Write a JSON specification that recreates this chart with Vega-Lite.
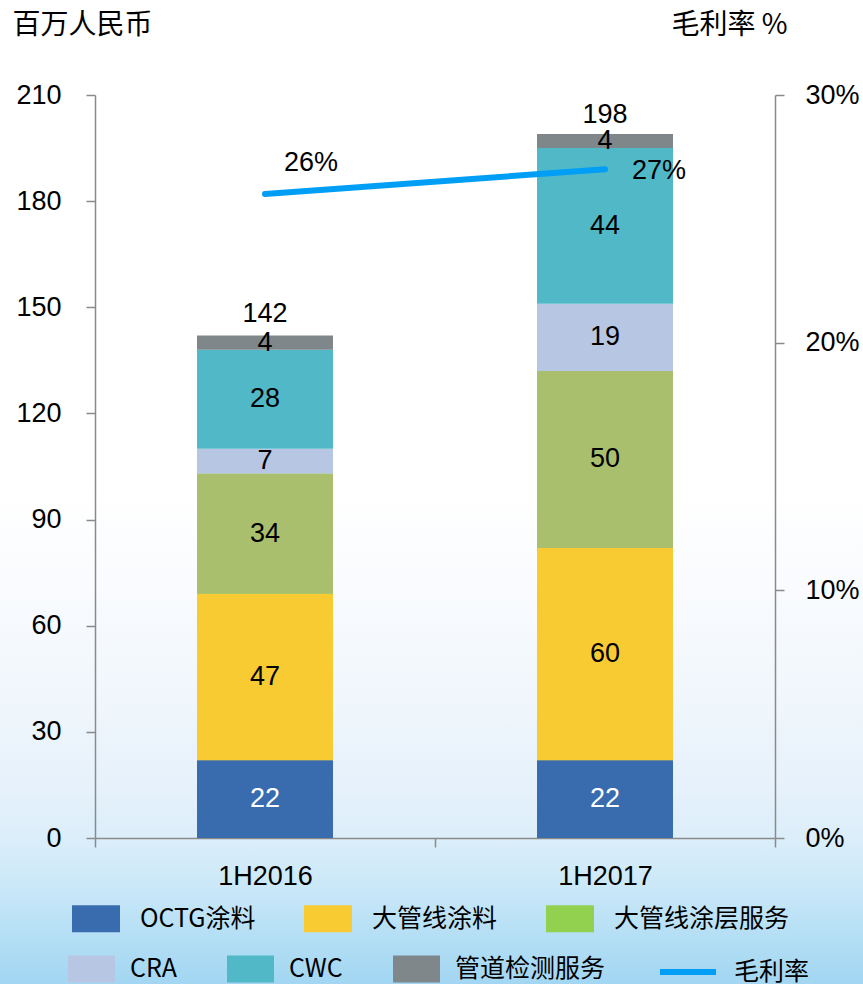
{
  "$schema": "https://vega.github.io/schema/vega-lite/v6.json",
  "width": 863,
  "height": 984,
  "autosize": {"type": "none"},
  "padding": 0,
  "background": "white",
  "view": {
    "stroke": null,
    "fill": {
      "gradient": "linear", "x1": 0, "y1": 0, "x2": 0, "y2": 1,
      "stops": [
        {"offset": 0, "color": "#FFFFFF"},
        {"offset": 0.5, "color": "#FFFFFF"},
        {"offset": 0.6, "color": "#F9FBFE"},
        {"offset": 0.7, "color": "#F1F7FC"},
        {"offset": 0.8, "color": "#E6F1FB"},
        {"offset": 0.85, "color": "#DCEEFA"},
        {"offset": 0.9, "color": "#CBE8F8"},
        {"offset": 0.95, "color": "#B5DFF5"},
        {"offset": 1, "color": "#A2D6F2"}
      ]
    }
  },
  "config": {
    "font": "Liberation Sans",
    "axis": {
      "domainColor": "#8A8A8A", "domainWidth": 1.5, "tickColor": "#8A8A8A", "tickWidth": 1.5,
      "labelColor": "black", "labelFont": "Liberation Sans", "labelFontSize": 27, "grid": false,
      "titleFont": "Noto Sans CJK SC", "titleFontSize": 28, "titleFontWeight": "normal", "titleColor": "black"
    },
    "legend": {
      "labelFont": "Noto Sans CJK SC", "labelFontSize": 25, "labelColor": "black", "labelLimit": 400, "padding": 0
    }
  },
  "resolve": {"scale": {"y": "independent"}},
  "layer": [
    {
      "data": {"values": [
        {"period": "1H2016", "category": "OCTG涂料", "value": 22},
        {"period": "1H2016", "category": "大管线涂料", "value": 47},
        {"period": "1H2016", "category": "大管线涂层服务", "value": 34},
        {"period": "1H2016", "category": "CRA", "value": 7},
        {"period": "1H2016", "category": "CWC", "value": 28},
        {"period": "1H2016", "category": "管道检测服务", "value": 4},
        {"period": "1H2017", "category": "OCTG涂料", "value": 22},
        {"period": "1H2017", "category": "大管线涂料", "value": 60},
        {"period": "1H2017", "category": "大管线涂层服务", "value": 50},
        {"period": "1H2017", "category": "CRA", "value": 19},
        {"period": "1H2017", "category": "CWC", "value": 44},
        {"period": "1H2017", "category": "管道检测服务", "value": 4}
      ]},
      "transform": [
        {"calculate": "indexof(['OCTG涂料','大管线涂料','大管线涂层服务','CRA','CWC','管道检测服务'], datum.category)", "as": "k"}
      ],
      "layer": [
        {
          "mark": {"type": "bar", "width": {"band": 0.4}},
          "encoding": {
            "x": {
              "field": "period", "type": "nominal", "sort": ["1H2016", "1H2017"],
              "scale": {"range": [95, 775], "paddingInner": 0, "paddingOuter": 0},
              "axis": {"title": null, "labelAngle": 0, "offset": -146, "tickBand": "extent", "tickSize": 9, "labelPadding": 16}
            },
            "y": {
              "field": "value", "type": "quantitative", "stack": "zero",
              "scale": {"domain": [0, 210], "range": [838, 95], "nice": false, "zero": true},
              "axis": {
                "orient": "left", "offset": -95, "values": [0, 30, 60, 90, 120, 150, 180, 210],
                "tickSize": 9, "labelPadding": 25,
                "title": "百万人民币", "titleAngle": 0, "titleAlign": "left", "titleBaseline": "middle",
                "titleX": -83, "titleY": 25
              }
            },
            "fill": {
              "field": "category", "type": "nominal",
              "scale": {"domain": ["OCTG涂料", "大管线涂料", "大管线涂层服务"], "range": ["#386CAE", "#F9CB33", "#92D050"]},
              "legend": {
                "title": null, "orient": "none", "legendX": 72, "legendY": 894.5, "direction": "horizontal",
                "symbolType": "M-1,-0.5625L1,-0.5625L1,0.5625L-1,0.5625Z", "symbolSize": 2304, "symbolStrokeWidth": 0,
                "labelOffset": 20, "columnPadding": 48, "gridAlign": "each"
              }
            },
            "order": {"field": "k", "type": "quantitative"}
          }
        },
        {
          "mark": {"type": "bar", "width": {"band": 0.4}},
          "encoding": {
            "x": {"field": "period", "type": "nominal", "sort": ["1H2016", "1H2017"]},
            "y": {"field": "value", "type": "quantitative", "stack": "zero"},
            "color": {
              "field": "category", "type": "nominal",
              "scale": {
                "domain": ["OCTG涂料", "大管线涂料", "大管线涂层服务", "CRA", "CWC", "管道检测服务"],
                "range": ["#386CAE", "#F9CB33", "#A9BF6E", "#B7C7E3", "#51B8C8", "#7F878A"]
              },
              "legend": {
                "values": ["CRA", "CWC", "管道检测服务"],
                "title": null, "orient": "none", "legendX": 68, "legendY": 945.5, "direction": "horizontal",
                "symbolType": "M-1,-0.574L1,-0.574L1,0.574L-1,0.574Z", "symbolSize": 2209, "symbolStrokeWidth": 0,
                "labelOffset": 15, "columnPadding": 50, "gridAlign": "each"
              }
            },
            "order": {"field": "k", "type": "quantitative"}
          }
        },
        {
          "mark": {"type": "text", "fontSize": 27, "baseline": "middle", "align": "center"},
          "encoding": {
            "x": {"field": "period", "type": "nominal", "sort": ["1H2016", "1H2017"]},
            "y": {"field": "value", "type": "quantitative", "stack": "zero", "bandPosition": 0.5},
            "detail": {"field": "category", "type": "nominal"},
            "order": {"field": "k", "type": "quantitative"},
            "text": {"field": "value", "type": "quantitative"},
            "color": {"condition": {"test": "datum.category === 'OCTG涂料'", "value": "white"}, "value": "black"}
          }
        },
        {
          "data": {"values": [
            {"period": "1H2016", "total": 142},
            {"period": "1H2017", "total": 198}
          ]},
          "mark": {"type": "text", "fontSize": 27, "baseline": "alphabetic", "align": "center", "dy": -14, "color": "black"},
          "encoding": {
            "x": {"field": "period", "type": "nominal", "sort": ["1H2016", "1H2017"]},
            "y": {"field": "total", "type": "quantitative"},
            "text": {"field": "total", "type": "quantitative"}
          }
        }
      ]
    },
    {
      "data": {"values": [
        {"period": "1H2016", "margin": 26},
        {"period": "1H2017", "margin": 27}
      ]},
      "layer": [
        {
          "mark": {"type": "line", "strokeWidth": 6, "strokeCap": "round"},
          "encoding": {
            "x": {"field": "period", "type": "nominal", "sort": ["1H2016", "1H2017"]},
            "y": {
              "field": "margin", "type": "quantitative",
              "scale": {"domain": [0, 30], "range": [838, 95], "nice": false},
              "axis": {
                "orient": "right", "offset": -88, "values": [0, 10, 20, 30], "labelExpr": "datum.value + '%'",
                "tickSize": 9, "labelPadding": 21,
                "title": "毛利率 %", "titleAngle": 0, "titleAlign": "right", "titleBaseline": "middle",
                "titleX": 12, "titleY": 25
              }
            },
            "stroke": {
              "datum": "毛利率", "type": "nominal",
              "scale": {"range": ["#009FF5"]},
              "legend": {
                "title": null, "orient": "none", "legendX": 657, "legendY": 941, "direction": "horizontal",
                "symbolType": "stroke", "symbolSize": 3136, "symbolStrokeWidth": 6, "labelOffset": 15
              }
            }
          }
        },
        {
          "transform": [{"filter": "datum.period === '1H2016'"}],
          "mark": {"type": "text", "fontSize": 27, "align": "left", "baseline": "middle", "dx": 19, "dy": -31, "color": "black"},
          "encoding": {
            "x": {"field": "period", "type": "nominal", "sort": ["1H2016", "1H2017"]},
            "y": {"field": "margin", "type": "quantitative"},
            "text": {"value": "26%"}
          }
        },
        {
          "transform": [{"filter": "datum.period === '1H2017'"}],
          "mark": {"type": "text", "fontSize": 27, "align": "left", "baseline": "middle", "dx": 27, "dy": 2, "color": "black"},
          "encoding": {
            "x": {"field": "period", "type": "nominal", "sort": ["1H2016", "1H2017"]},
            "y": {"field": "margin", "type": "quantitative"},
            "text": {"value": "27%"}
          }
        }
      ]
    }
  ]
}
